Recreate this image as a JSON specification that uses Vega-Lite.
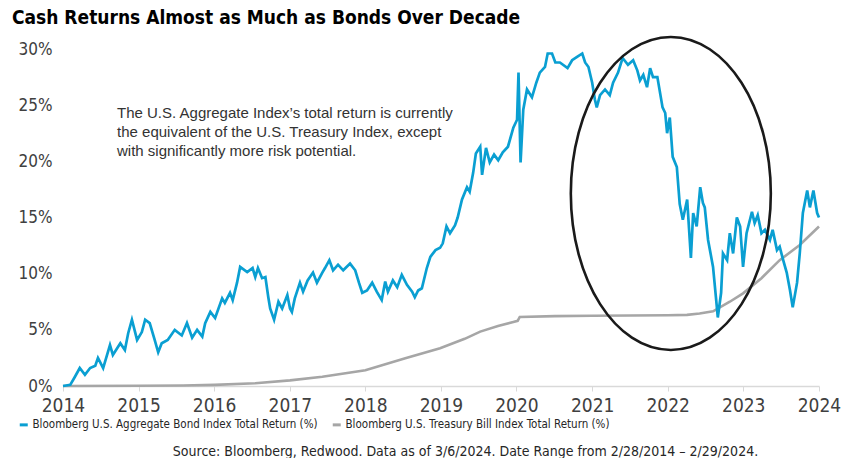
{
  "$schema": "https://vega.github.io/schema/vega-lite/v6.json",
  "width": 756,
  "height": 337,
  "autosize": "none",
  "padding": {"left": 63, "top": 49, "right": 25, "bottom": 72},
  "background": "white",
  "title": {
    "text": "Cash Returns Almost as Much as Bonds Over Decade",
    "anchor": "start",
    "frame": "group",
    "dx": -51,
    "offset": 4,
    "fontSize": 19,
    "font": "Liberation Sans Narrow, DejaVu Sans Condensed, Liberation Sans",
    "fontWeight": "bold",
    "color": "#000000"
  },
  "config": {
    "view": {"stroke": null},
    "axis": {"grid": false}
  },
  "datasets": {
    "bond": [
      {"date":"2014-02-28","value":0},{"date":"2014-04-04","value":0.1},{"date":"2014-04-26","value":0.8},{"date":"2014-05-20","value":1.6},{"date":"2014-06-14","value":1.0},{"date":"2014-07-09","value":1.6},{"date":"2014-08-03","value":1.8},{"date":"2014-08-16","value":2.5},{"date":"2014-09-10","value":1.6},{"date":"2014-10-13","value":3.65},{"date":"2014-10-27","value":2.76},{"date":"2014-12-02","value":3.8},{"date":"2014-12-24","value":3.2},{"date":"2015-01-09","value":4.7},{"date":"2015-01-27","value":5.9},{"date":"2015-02-21","value":4.1},{"date":"2015-03-16","value":4.8},{"date":"2015-04-01","value":5.9},{"date":"2015-04-23","value":5.6},{"date":"2015-05-17","value":4.1},{"date":"2015-06-03","value":3.0},{"date":"2015-06-20","value":3.8},{"date":"2015-07-19","value":4.1},{"date":"2015-08-22","value":5.0},{"date":"2015-09-25","value":4.5},{"date":"2015-10-20","value":5.6},{"date":"2015-11-14","value":4.3},{"date":"2015-12-08","value":5.0},{"date":"2016-01-02","value":4.4},{"date":"2016-01-16","value":5.6},{"date":"2016-02-10","value":6.6},{"date":"2016-03-04","value":6.05},{"date":"2016-04-07","value":7.8},{"date":"2016-04-20","value":7.4},{"date":"2016-05-15","value":8.3},{"date":"2016-05-28","value":7.65},{"date":"2016-06-18","value":9.2},{"date":"2016-07-03","value":10.6},{"date":"2016-08-06","value":10.15},{"date":"2016-09-01","value":10.5},{"date":"2016-09-14","value":9.7},{"date":"2016-09-27","value":10.5},{"date":"2016-10-17","value":9.6},{"date":"2016-11-02","value":9.7},{"date":"2016-11-16","value":7.9},{"date":"2016-11-25","value":6.9},{"date":"2016-12-14","value":5.9},{"date":"2017-01-04","value":7.5},{"date":"2017-01-22","value":6.9},{"date":"2017-02-16","value":8.1},{"date":"2017-03-01","value":6.9},{"date":"2017-03-10","value":6.6},{"date":"2017-03-24","value":7.8},{"date":"2017-04-18","value":9.2},{"date":"2017-05-03","value":8.4},{"date":"2017-05-25","value":9.4},{"date":"2017-06-20","value":10.1},{"date":"2017-07-09","value":9.2},{"date":"2017-08-04","value":10.1},{"date":"2017-08-17","value":10.5},{"date":"2017-09-07","value":11.2},{"date":"2017-09-25","value":10.3},{"date":"2017-10-19","value":10.8},{"date":"2017-11-13","value":10.3},{"date":"2017-12-16","value":10.9},{"date":"2018-01-10","value":10.3},{"date":"2018-01-28","value":9.2},{"date":"2018-02-13","value":8.3},{"date":"2018-03-08","value":8.5},{"date":"2018-04-02","value":9.2},{"date":"2018-04-24","value":8.4},{"date":"2018-05-18","value":7.65},{"date":"2018-06-04","value":9.3},{"date":"2018-06-17","value":8.4},{"date":"2018-07-11","value":9.4},{"date":"2018-08-01","value":8.8},{"date":"2018-08-23","value":9.9},{"date":"2018-09-17","value":9.0},{"date":"2018-10-12","value":8.4},{"date":"2018-10-25","value":7.9},{"date":"2018-11-10","value":8.5},{"date":"2018-11-28","value":8.7},{"date":"2018-12-22","value":10.5},{"date":"2019-01-08","value":11.5},{"date":"2019-02-02","value":12.1},{"date":"2019-02-24","value":12.3},{"date":"2019-03-09","value":12.7},{"date":"2019-03-27","value":14.2},{"date":"2019-04-13","value":13.6},{"date":"2019-05-07","value":14.3},{"date":"2019-05-20","value":15.0},{"date":"2019-06-10","value":16.6},{"date":"2019-07-04","value":17.7},{"date":"2019-07-17","value":17.3},{"date":"2019-08-03","value":19.0},{"date":"2019-08-16","value":20.7},{"date":"2019-09-06","value":21.3},{"date":"2019-09-15","value":18.8},{"date":"2019-10-04","value":21.2},{"date":"2019-10-22","value":19.9},{"date":"2019-11-12","value":20.6},{"date":"2019-12-02","value":20.1},{"date":"2019-12-24","value":20.8},{"date":"2020-01-18","value":21.3},{"date":"2020-02-13","value":23.0},{"date":"2020-03-02","value":23.7},{"date":"2020-03-09","value":27.9},{"date":"2020-03-19","value":19.9},{"date":"2020-04-01","value":24.6},{"date":"2020-04-19","value":26.4},{"date":"2020-05-13","value":25.7},{"date":"2020-06-03","value":27.0},{"date":"2020-06-20","value":27.9},{"date":"2020-07-15","value":28.4},{"date":"2020-07-28","value":29.6},{"date":"2020-08-18","value":29.6},{"date":"2020-09-03","value":28.8},{"date":"2020-09-25","value":28.8},{"date":"2020-11-01","value":28.3},{"date":"2020-11-23","value":29.0},{"date":"2020-12-17","value":29.3},{"date":"2021-01-11","value":29.6},{"date":"2021-01-25","value":28.8},{"date":"2021-02-10","value":28.4},{"date":"2021-02-28","value":27.0},{"date":"2021-03-13","value":25.5},{"date":"2021-03-22","value":24.8},{"date":"2021-04-07","value":25.9},{"date":"2021-05-01","value":26.4},{"date":"2021-05-24","value":25.9},{"date":"2021-06-09","value":27.0},{"date":"2021-07-03","value":27.9},{"date":"2021-07-25","value":29.2},{"date":"2021-08-20","value":28.6},{"date":"2021-09-14","value":29.0},{"date":"2021-10-04","value":28.1},{"date":"2021-10-17","value":27.2},{"date":"2021-11-02","value":27.7},{"date":"2021-11-20","value":26.6},{"date":"2021-12-05","value":28.3},{"date":"2021-12-19","value":27.5},{"date":"2022-01-09","value":27.5},{"date":"2022-02-03","value":24.8},{"date":"2022-02-16","value":24.3},{"date":"2022-02-25","value":22.5},{"date":"2022-03-10","value":23.9},{"date":"2022-03-24","value":20.4},{"date":"2022-04-13","value":19.5},{"date":"2022-04-27","value":16.2},{"date":"2022-05-12","value":14.8},{"date":"2022-06-02","value":16.6},{"date":"2022-06-20","value":11.4},{"date":"2022-07-01","value":15.4},{"date":"2022-07-18","value":14.2},{"date":"2022-08-04","value":17.7},{"date":"2022-08-17","value":16.3},{"date":"2022-08-26","value":15.9},{"date":"2022-09-11","value":13.0},{"date":"2022-10-05","value":10.6},{"date":"2022-10-19","value":7.9},{"date":"2022-10-28","value":6.1},{"date":"2022-11-13","value":8.3},{"date":"2022-11-22","value":11.8},{"date":"2022-12-12","value":11.2},{"date":"2022-12-25","value":13.6},{"date":"2023-01-10","value":11.8},{"date":"2023-01-28","value":15.0},{"date":"2023-02-13","value":14.2},{"date":"2023-02-27","value":10.6},{"date":"2023-03-16","value":13.6},{"date":"2023-04-11","value":15.5},{"date":"2023-04-24","value":14.5},{"date":"2023-05-09","value":15.2},{"date":"2023-05-27","value":13.6},{"date":"2023-06-13","value":13.9},{"date":"2023-07-07","value":13.0},{"date":"2023-07-20","value":13.9},{"date":"2023-08-10","value":12.1},{"date":"2023-08-23","value":12.4},{"date":"2023-09-09","value":11.2},{"date":"2023-09-26","value":10.1},{"date":"2023-10-12","value":8.5},{"date":"2023-10-25","value":7.0},{"date":"2023-11-15","value":9.2},{"date":"2023-11-28","value":11.8},{"date":"2023-12-13","value":15.4},{"date":"2024-01-03","value":17.4},{"date":"2024-01-16","value":15.9},{"date":"2024-02-02","value":17.4},{"date":"2024-02-20","value":15.4},{"date":"2024-02-29","value":15.0}
    ],
    "tbill": [
      {"date":"2014-02-28","value":0},{"date":"2015-02-28","value":0.02},{"date":"2015-10-01","value":0.05},{"date":"2016-03-01","value":0.1},{"date":"2016-09-14","value":0.24},{"date":"2017-03-01","value":0.5},{"date":"2017-08-04","value":0.83},{"date":"2018-02-28","value":1.4},{"date":"2018-09-09","value":2.46},{"date":"2019-02-24","value":3.36},{"date":"2019-06-23","value":4.2},{"date":"2019-09-06","value":4.84},{"date":"2019-12-01","value":5.35},{"date":"2020-02-13","value":5.7},{"date":"2020-03-05","value":5.8},{"date":"2020-03-15","value":6.15},{"date":"2020-09-01","value":6.22},{"date":"2021-03-01","value":6.26},{"date":"2021-09-01","value":6.28},{"date":"2022-03-01","value":6.3},{"date":"2022-06-01","value":6.33},{"date":"2022-08-01","value":6.45},{"date":"2022-10-05","value":6.65},{"date":"2022-12-25","value":7.5},{"date":"2023-02-27","value":8.25},{"date":"2023-05-27","value":9.6},{"date":"2023-08-23","value":11.2},{"date":"2023-11-28","value":12.55},{"date":"2024-02-29","value":14.2}
    ],
    "ellipse": [{"date":"2022-03-15","value":17.14}],
    "note": [{"date":"2014-11-16","value":24.95,"text":["The U.S. Aggregate Index\u2019s total return is currently","the equivalent of the U.S. Treasury Index, except","with significantly more risk potential."]}]
  },
  "encoding": {
    "x": {
      "field": "date",
      "type": "temporal",
      "scale": {
        "type": "utc",
        "domain": [{"year":2014,"month":2,"date":28,"utc":true},{"year":2024,"month":2,"date":29,"utc":true}]
      },
      "axis": {
        "values": [
          {"year":2014,"month":2,"date":28,"utc":true},{"year":2015,"month":2,"date":28,"utc":true},{"year":2016,"month":2,"date":28,"utc":true},{"year":2017,"month":2,"date":28,"utc":true},{"year":2018,"month":2,"date":28,"utc":true},{"year":2019,"month":2,"date":28,"utc":true},{"year":2020,"month":2,"date":28,"utc":true},{"year":2021,"month":2,"date":28,"utc":true},{"year":2022,"month":2,"date":28,"utc":true},{"year":2023,"month":2,"date":28,"utc":true},{"year":2024,"month":2,"date":29,"utc":true}
        ],
        "format": "%Y",
        "labelFont": "Liberation Sans Narrow, DejaVu Sans Condensed, Liberation Sans",
        "labelFontSize": 19,
        "labelColor": "#404040",
        "labelPadding": 5,
        "labelFlush": false,
        "labelOverlap": false,
        "domainColor": "#D9D9D9",
        "domainWidth": 1.5,
        "tickColor": "#D9D9D9",
        "tickSize": 5,
        "title": "Source: Bloomberg, Redwood. Data as of 3/6/2024. Date Range from 2/28/2014 \u2013 2/29/2024.",
        "titleFont": "Liberation Sans Narrow, DejaVu Sans Condensed, Liberation Sans",
        "titleFontSize": 14,
        "titleFontWeight": "normal",
        "titleColor": "#262626",
        "titleX": 402,
        "titleY": 69,
        "titleAlign": "center",
        "titleBaseline": "alphabetic"
      }
    },
    "y": {
      "field": "value",
      "type": "quantitative",
      "scale": {"domain": [0, 30], "nice": false},
      "axis": {
        "values": [0, 5, 10, 15, 20, 25, 30],
        "labelExpr": "datum.value + '%'",
        "domain": false,
        "ticks": false,
        "labelFont": "Liberation Sans Narrow, DejaVu Sans Condensed, Liberation Sans",
        "labelFontSize": 17,
        "labelColor": "#404040",
        "labelPadding": 11,
        "title": null
      }
    }
  },
  "layer": [
    {
      "data": {"name": "tbill"},
      "mark": {"type": "line", "strokeWidth": 2.6},
      "encoding": {
        "color": {
          "datum": "Bloomberg U.S. Treasury Bill Index Total Return (%)",
          "type": "nominal",
          "scale": {
            "domain": ["Bloomberg U.S. Aggregate Bond Index Total Return (%)", "Bloomberg U.S. Treasury Bill Index Total Return (%)"],
            "range": ["#0A9FD2", "#A6A6A6"]
          },
          "legend": {
            "orient": "none",
            "direction": "horizontal",
            "legendX": -45,
            "legendY": 370,
            "title": null,
            "symbolType": "stroke",
            "symbolSize": 64,
            "symbolStrokeWidth": 3,
            "labelFont": "Liberation Sans Narrow, DejaVu Sans Condensed, Liberation Sans",
            "labelFontSize": 11.5,
            "labelColor": "#262626",
            "labelOffset": 3,
            "columnPadding": 8,
            "labelLimit": 400
          }
        }
      }
    },
    {
      "data": {"name": "bond"},
      "mark": {"type": "line", "strokeWidth": 2.7},
      "encoding": {
        "color": {"datum": "Bloomberg U.S. Aggregate Bond Index Total Return (%)", "type": "nominal"}
      }
    },
    {
      "data": {"name": "ellipse"},
      "mark": {
        "type": "point",
        "shape": "M -0.639 0 A 0.639 1 0 1 1 0.639 0 A 0.639 1 0 1 1 -0.639 0 Z",
        "size": 97969,
        "filled": false,
        "color": "#1A1A1A",
        "stroke": "#1A1A1A",
        "strokeWidth": 2.6,
        "opacity": 1
      }
    },
    {
      "data": {"name": "note"},
      "mark": {
        "type": "text",
        "align": "left",
        "baseline": "top",
        "font": "Liberation Sans",
        "fontSize": 15,
        "lineHeight": 19,
        "color": "#333333"
      },
      "encoding": {"text": {"field": "text"}}
    }
  ]
}
